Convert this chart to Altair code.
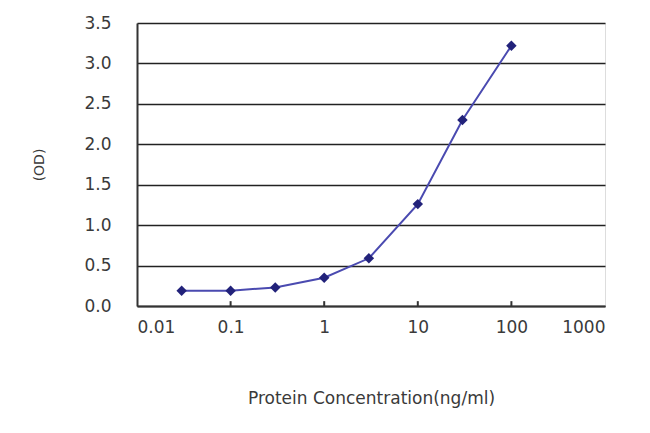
import altair as alt
import pandas as pd

conc = [0.03, 0.1, 0.3, 1, 3, 10, 30, 100]
od = [0.19, 0.19, 0.23, 0.35, 0.59, 1.26, 2.30, 3.22]
x_ticks = [0.01, 0.1, 1, 10, 100, 1000]
y_ticks = [0, 0.5, 1.0, 1.5, 2.0, 2.5, 3.0, 3.5]

df = pd.DataFrame({"conc": conc, "od": od})
tdf = pd.DataFrame({"t": x_ticks[1:-1], "y0": [0] * 4, "y1": [0.06] * 4})

xs = alt.Scale(type="log", domain=[0.01, 1000])
ys = alt.Scale(domain=[0, 3.5])

FONT = "DejaVu Sans"
xax = alt.Axis(values=x_ticks, format="~g", grid=False, ticks=False, domain=True,
               domainColor="#333", domainWidth=2, labelPadding=13,
               labelFont=FONT, labelFontSize=17, labelColor="#3a3a3a",
               titleFont=FONT, titleFontSize=17, titleFontWeight="normal",
               titleColor="#3a3a3a", titlePadding=55)
yax = alt.Axis(values=y_ticks, format=".1f", grid=True, gridColor="#222", gridWidth=1.6,
               ticks=False, domain=True, domainColor="#333", domainWidth=2, labelPadding=26,
               labelFont=FONT, labelFontSize=17, labelColor="#3a3a3a",
               titleFont=FONT, titleFontSize=14, titleFontWeight="normal",
               titleColor="#3a3a3a", titlePadding=37)

base = alt.Chart(df)
line = base.mark_line(color="#4a4ab0", strokeWidth=2).encode(
    x=alt.X("conc:Q", scale=xs, axis=xax, title="Protein Concentration(ng/ml)"),
    y=alt.Y("od:Q", scale=ys, axis=yax, title="(OD)"),
)
pts = base.mark_point(shape="diamond", filled=True, size=110, color="#22227a", opacity=1).encode(
    x=alt.X("conc:Q", scale=xs), y=alt.Y("od:Q", scale=ys)
)
ticks = alt.Chart(tdf).mark_rule(color="#333", strokeWidth=2).encode(
    x=alt.X("t:Q", scale=xs), y=alt.Y("y0:Q", scale=ys), y2="y1:Q"
)

chart = alt.layer(ticks, line, pts).properties(
    width=468, height=283, autosize="none",
    padding={"left": 129, "top": 15, "right": 30, "bottom": 115},
).configure_view(stroke="#888", strokeWidth=1.5).configure(background="white")

chart.save("out.html", embed_options={"renderer": "svg", "actions": False})
